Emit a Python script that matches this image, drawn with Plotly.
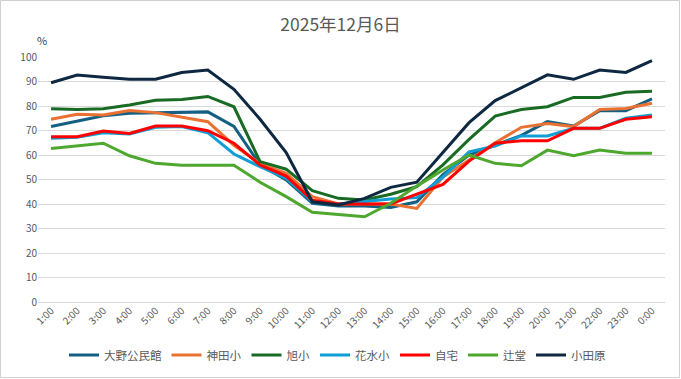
import plotly.graph_objects as go

hours = ["1:00","2:00","3:00","4:00","5:00","6:00","7:00","8:00","9:00","10:00","11:00","12:00",
         "13:00","14:00","15:00","16:00","17:00","18:00","19:00","20:00","21:00","22:00","23:00","0:00"]

ono = [71.6,73.9,76.0,77.0,77.3,77.6,77.6,71.7,56,49.8,40.3,39.2,39.2,38.6,40.9,52,60,64,68,73.6,71.8,78.1,78.1,82.9]
kanda = [74.6,76.6,76.3,78.2,77.3,75.6,73.6,64,56.5,52.5,43,40,40,40,38.2,51,58,65,71.3,72.9,71.6,78.6,79,81.1]
asahi = [78.9,78.6,78.9,80.4,82.3,82.7,83.9,79.7,57.3,54.2,45.4,42.3,41.6,44,47.1,56,66.4,75.9,78.6,79.7,83.5,83.5,85.6,86]
hanamizu = [66.8,67.2,69.1,68.6,71.3,71.6,69.1,60.4,55.2,50.5,41,40,41,42,42.6,51,61.3,63.7,67.8,67.8,70.9,70.9,75,76.3]
jitaku = [67.5,67.5,69.8,68.8,71.8,71.8,69.9,64.8,55.9,51.4,41.5,40,40,40,44,48,57.5,64.8,65.8,65.8,70.9,70.9,74.6,75.6]
tsujido = [62.7,63.8,64.8,59.7,56.6,55.8,55.8,55.8,48.9,43,36.6,35.8,34.8,40.3,47.3,53.9,60,56.6,55.6,62,59.7,62,60.7,60.7]
odawara = [89.5,92.6,91.7,90.9,90.9,93.7,94.7,86.8,74.6,61,40.9,39.6,42.3,46.8,48.9,61,73.2,82.2,87.6,92.7,90.9,94.7,93.7,98.5]

series = [
    ("大野公民館", ono, "#156082"),
    ("神田小", kanda, "#E97132"),
    ("旭小", asahi, "#196B24"),
    ("花水小", hanamizu, "#0F9ED5"),
    ("自宅", jitaku, "#FF0000"),
    ("辻堂", tsujido, "#4EA72E"),
    ("小田原", odawara, "#0E2841"),
]

FONT = "Noto Sans CJK JP"
fig = go.Figure()
for name, vals, col in series:
    fig.add_trace(go.Scatter(x=hours, y=vals, name=name, mode="lines",
                             line=dict(color=col, width=3)))

L, R, T, B = 38, 16, 57, 77
W, H = 681, 379
pw, ph = W - L - R, H - T - B

fig.update_layout(
    width=W, height=H,
    margin=dict(l=L, r=R, t=T, b=B, autoexpand=False),
    paper_bgcolor="white", plot_bgcolor="white",
    font=dict(family=FONT, color="#595959", size=10),
    title=dict(text="2025年12月6日", x=0.5, xanchor="center", y=1 - 25 / H, yanchor="middle",
               font=dict(size=17.5, color="#595959", family=FONT)),
    showlegend=True,
    legend=dict(orientation="h", x=0.5 - 14 / pw, xanchor="center", y=-(355 - (H - B)) / ph, yanchor="middle",
                font=dict(size=11.5, color="#595959", family=FONT), itemwidth=30,
                bgcolor="rgba(0,0,0,0)"),
    xaxis=dict(type="category", tickangle=-45, showgrid=False, showline=False, ticks="",
               tickfont=dict(size=10, color="#595959"), range=[-0.5, 23.5], automargin=False),
    yaxis=dict(range=[0, 100], dtick=10, showgrid=True, gridcolor="#D9D9D9", gridwidth=1,
               zeroline=True, zerolinecolor="#D9D9D9", zerolinewidth=1, ticks="",
               tickfont=dict(size=10, color="#595959"), showline=False, automargin=False),
    annotations=[dict(text="%", xref="paper", yref="paper", x=(42 - L) / pw, y=(H - B - 40) / ph,
                      xanchor="center", yanchor="middle", showarrow=False,
                      font=dict(size=11, color="#404040", family=FONT))],
    shapes=[dict(type="rect", xref="paper", yref="paper",
                 x0=(0.5 - L) / pw, x1=(W - 1.5 - L) / pw,
                 y0=-(B - 1.5) / ph, y1=(H - B - 0.5) / ph,
                 line=dict(color="#D0D0D0", width=1), layer="below")],
)

fig.write_html("out.html", config={"displayModeBar": False},
               post_script="document.body.style.margin='0';document.body.style.overflow='hidden';")
